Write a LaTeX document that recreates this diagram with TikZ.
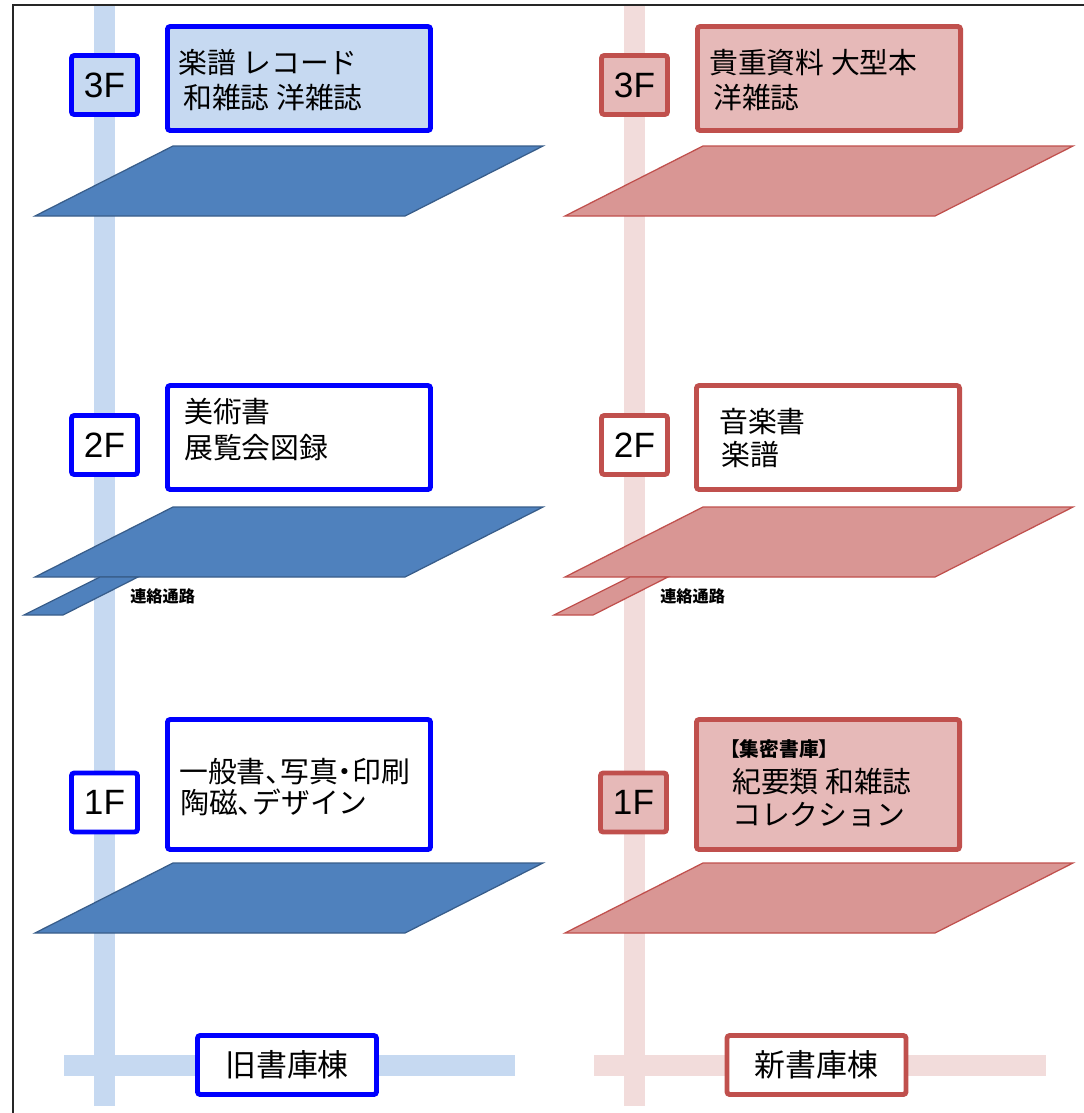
\documentclass[tikz,border=0pt]{standalone}
\usepackage{fontspec}
\setmainfont{Noto Sans CJK JP}
\newfontfamily\floorfont{Liberation Sans}
\newcommand\halfp[1]{{\addfontfeature{RawFeature=+palt}#1}}
\usetikzlibrary{positioning}

\definecolor{oldline}{HTML}{0000FF}
\definecolor{oldfill}{HTML}{C6D9F1}
\definecolor{oldslab}{HTML}{4F81BD}
\definecolor{oldslabline}{HTML}{385D8A}
\definecolor{newline}{HTML}{C0504D}
\definecolor{newfill}{HTML}{E6B9B8}
\definecolor{newslab}{HTML}{D99694}
\definecolor{newpillar}{HTML}{F2DCDB}

\begin{document}
\begin{tikzpicture}[x=0.025cm, y=-0.025cm, every node/.style={inner sep=0pt},
  floortag/.style={draw, line width=3.5pt, rounded corners=2pt, minimum width=1.65cm, minimum height=1.475cm, font=\floorfont\fontsize{25}{30}\selectfont},
  shelfbox/.style={draw, line width=3.5pt, rounded corners=2pt, minimum width=6.575cm, minimum height=2.6cm},
  wingtag/.style={draw, line width=3.5pt, rounded corners=2pt, fill=white, minimum width=4.475cm, minimum height=1.475cm, font=\fontsize{22}{26}\selectfont},
  shelftext/.style={anchor=west, font=\fontsize{20.5}{24}\selectfont},
  walktext/.style={anchor=west, font=\bfseries\fontsize{11.5}{14}\selectfont},
  slab/.style={line width=0.9pt}]
  \useasboundingbox (0,0) rectangle (1084,1113);

  % Pillars and base bars
  \fill[oldfill] (94,5) rectangle (115,1106);
  \fill[oldfill] (64,1055) rectangle (515,1076);
  \fill[newpillar] (624,5) rectangle (645,1106);
  \fill[newpillar] (594,1055) rectangle (1046,1076);

  % Frame
  \draw[line width=1.4pt, black!85] (13,1113) -- (13,5) -- (1084,5);

  % Floor slabs, old stack
  \draw[slab, fill=oldslab, draw=oldslabline] (173,146) -- (543,146) -- (405,216) -- (35,216) -- cycle;
  \draw[slab, fill=oldslab, draw=oldslabline] (173,507) -- (543,507) -- (405,577) -- (35,577) -- cycle;
  \draw[slab, fill=oldslab, draw=oldslabline] (100,577) -- (138,577) -- (63,615) -- (24,615) -- cycle;
  \draw[slab, fill=oldslab, draw=oldslabline] (173,863) -- (543,863) -- (405,933) -- (35,933) -- cycle;

  % Floor slabs, new stack
  \draw[slab, fill=newslab, draw=newline] (703,146) -- (1073,146) -- (935,216) -- (565,216) -- cycle;
  \draw[slab, fill=newslab, draw=newline] (703,507) -- (1073,507) -- (935,577) -- (565,577) -- cycle;
  \draw[slab, fill=newslab, draw=newline] (630,577) -- (668,577) -- (593,615) -- (554,615) -- cycle;
  \draw[slab, fill=newslab, draw=newline] (703,863) -- (1073,863) -- (935,933) -- (565,933) -- cycle;

  \node[walktext] (owalk) at (130,596) {連絡通路};
  \node[walktext] (nwalk) at (660,596) {連絡通路};

  % Old stack
  \node[floortag, draw=oldline, fill=oldfill] (o3) at (104.5,85) {3F};
  \node[floortag, draw=oldline, fill=white] (o2) at (104.5,445) {2F};
  \node[floortag, draw=oldline, fill=white] (o1) at (104.5,802.5) {1F};
  \node[shelfbox, draw=oldline, fill=oldfill] (o3box) at (299,78.5) {};
  \node[shelfbox, draw=oldline, fill=white] (o2box) at (299,437.5) {};
  \node[shelfbox, draw=oldline, fill=white, minimum height=3.25cm] (o1box) at (299,784.5) {};
  \node[shelftext] (o3a) at (178,63) {楽譜 レコード};
  \node[shelftext] (o3b) at (183,97) {和雑誌 洋雑誌};
  \node[shelftext] (o2a) at (184,412) {美術書};
  \node[shelftext] (o2b) at (184,448) {展覧会図録};
  \node[shelftext] (o1a) at (179,772) {一般書\halfp{、}写真\halfp{・}印刷};
  \node[shelftext] (o1b) at (180,802) {陶磁\halfp{、}デザイン};
  \node[wingtag, draw=oldline] (oldwing) at (287,1065) {旧書庫棟};

  % New stack
  \node[floortag, draw=newline, fill=newfill] (n3) at (634.5,85) {3F};
  \node[floortag, draw=newline, fill=white] (n2) at (634.5,445) {2F};
  \node[floortag, draw=newline, fill=newfill] (n1) at (633.5,802.5) {1F};
  \node[shelfbox, draw=newline, fill=newfill] (n3box) at (829,78.5) {};
  \node[shelfbox, draw=newline, fill=white] (n2box) at (828,437.5) {};
  \node[shelfbox, draw=newline, fill=newfill, minimum height=3.25cm] (n1box) at (828,784.5) {};
  \node[shelftext] (n3a) at (709,63) {貴重資料 大型本};
  \node[shelftext] (n3b) at (713,97) {洋雑誌};
  \node[shelftext] (n2a) at (719,422) {音楽書};
  \node[shelftext] (n2b) at (721,455) {楽譜};
  \node[shelftext, font=\bfseries\fontsize{14}{17}\selectfont] (n1a) at (720,749) {【集密書庫】};
  \node[shelftext] (n1b) at (732,782) {紀要類 和雑誌};
  \node[shelftext] (n1c) at (732,815) {コレクション};
  \node[wingtag, draw=newline] (newwing) at (816.5,1065) {新書庫棟};
\end{tikzpicture}
\end{document}
